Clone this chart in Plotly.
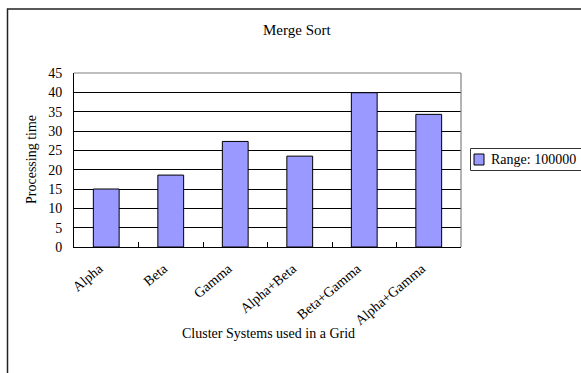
import plotly.graph_objects as go

# Data
clusters = ["Alpha", "Beta", "Gamma", "Alpha+Beta", "Beta+Gamma", "Alpha+Gamma"]
processing_time = [15.0, 18.6, 27.3, 23.5, 39.9, 34.3]
series_name = "Range: 100000"
y_ticks = [0, 5, 10, 15, 20, 25, 30, 35, 40, 45]

# Figure geometry (pixels)
W, H = 581, 373
ML, MR, MT, MB = 74, 120, 73, 126
PW, PH = W - ML - MR, H - MT - MB

FONT = "Liberation Serif, Times New Roman, serif"
BAR_FILL = "#9999FF"


def px(x):
    """Horizontal pixel -> paper coordinate."""
    return (x - ML) / PW


def py(y):
    """Vertical pixel (from top) -> paper coordinate."""
    return (H - MB - y) / PH


fig = go.Figure(
    go.Bar(
        x=clusters,
        y=processing_time,
        name=series_name,
        marker=dict(color=BAR_FILL, line=dict(color="black", width=1)),
        showlegend=False,
    )
)

shapes = [
    # chart frame
    dict(type="rect", xref="paper", yref="paper",
         x0=px(7.5), x1=px(W + 5), y0=py(H + 5), y1=py(9),
         line=dict(color="#222222", width=1.5), layer="above"),
    # plot-area border (top and right)
    dict(type="line", xref="paper", yref="paper",
         x0=0, x1=1, y0=1, y1=1, line=dict(color="#808080", width=1.2)),
    dict(type="line", xref="paper", yref="paper",
         x0=1, x1=1, y0=0, y1=1, line=dict(color="#808080", width=1.2)),
    # legend box
    dict(type="rect", xref="paper", yref="paper",
         x0=px(470.5), x1=px(W + 5), y0=py(170.5), y1=py(148.5),
         line=dict(color="#333333", width=1), fillcolor="white"),
    # legend swatch
    dict(type="rect", xref="paper", yref="paper",
         x0=px(474), x1=px(484), y0=py(165), y1=py(154),
         line=dict(color="black", width=1), fillcolor=BAR_FILL),
]

annotations = [
    dict(text="Merge Sort", xref="paper", yref="paper",
         x=px(297), y=py(30), xanchor="center", yanchor="middle",
         showarrow=False, font=dict(family=FONT, size=15, color="black")),
    dict(text="Processing time", xref="paper", yref="paper",
         x=px(31), y=py(160), xanchor="center", yanchor="middle",
         textangle=-90, showarrow=False,
         font=dict(family=FONT, size=14, color="black")),
    dict(text="Cluster Systems used in a Grid", xref="paper", yref="paper",
         x=px(268), y=py(333), xanchor="center", yanchor="middle",
         showarrow=False, font=dict(family=FONT, size=14, color="black")),
    dict(text=series_name, xref="paper", yref="paper",
         x=px(489), y=py(159.5), xanchor="left", yanchor="middle",
         showarrow=False, font=dict(family=FONT, size=14, color="black")),
]

fig.update_layout(
    width=W, height=H,
    margin=dict(l=ML, r=MR, t=MT, b=MB, pad=0),
    paper_bgcolor="white", plot_bgcolor="white",
    bargap=0.6,
    font=dict(family=FONT, size=14, color="black"),
    shapes=shapes,
    annotations=annotations,
    showlegend=False,
)

fig.update_xaxes(
    type="category",
    tickangle=-40,
    tickson="boundaries",
    ticks="inside", ticklen=5, tickcolor="black", tickwidth=1,
    ticklabelstandoff=7,
    ticklabelshift=-7,
    showline=True, linecolor="black", linewidth=1,
    showgrid=False, zeroline=False,
    tickfont=dict(family=FONT, size=14, color="black"),
)

fig.update_yaxes(
    range=[0, 45],
    tickvals=y_ticks,
    ticks="outside", ticklen=8, tickcolor="rgba(0,0,0,0)",
    showline=True, linecolor="black", linewidth=1,
    showgrid=True, gridcolor="black", gridwidth=1,
    zeroline=False,
    tickfont=dict(family=FONT, size=14, color="black"),
)

fig.write_html("out.html")
